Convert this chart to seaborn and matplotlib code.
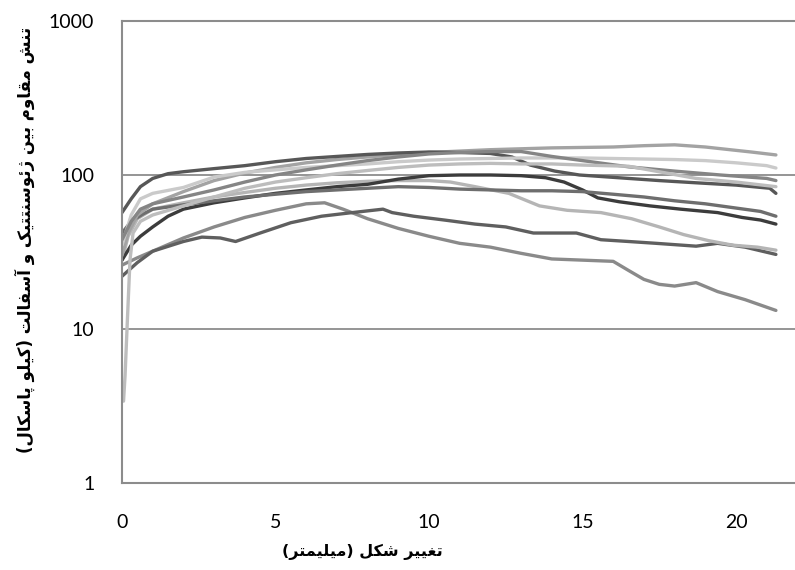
import numpy as np
import pandas as pd
import matplotlib
matplotlib.use("Agg")
import matplotlib.pyplot as plt
import seaborn as sns
from matplotlib.ticker import FixedLocator, NullLocator, FixedFormatter

# ---------------- data ----------------
x_labels_text = "تغییر شکل (میلیمتر)"
y_labels_text = "تنش مقاوم بین ژئوسنتتیک و آسفالت (کیلو پاسکال)"
y_ticks = [1, 10, 100, 1000]
y_tick_labels = ["1", "10", "100", "1000"]
x_ticks = [0, 5, 10, 15, 20]

s1_x = [0, 0.5, 1, 2, 3, 4, 5, 6, 6.6, 7.2, 8, 9, 10, 11, 12, 13, 14, 15, 16, 16.5, 17, 17.5, 18, 18.7, 19.4, 20.3, 21.3]
s1_y = [26, 29, 32, 39, 46, 53, 59, 65, 66, 60, 52, 45, 40, 36, 34, 31, 28.5, 28, 27.5, 24, 21, 19.5, 19, 20, 17.5, 15.5, 13.2]

s2_x = [0, 0.5, 1, 2, 2.6, 3.2, 3.7, 4.5, 5.5, 6.5, 7.5, 8.5, 8.8, 9.5, 10.5, 11.5, 12.5, 13.4, 14.8, 15.6, 16.5, 17.4, 18.7, 19.4, 20.3, 21.3]
s2_y = [22, 27, 32, 37, 39.5, 39, 37, 42, 49, 54, 57, 60, 57, 54, 51, 48, 46, 42, 42, 38, 37, 36, 34.5, 36, 34, 30.5]

s3_x = [0, 0.2, 0.5, 1, 2, 3, 4, 5, 6, 7, 8, 9, 10, 10.7, 11.5, 12.6, 13.6, 14.5, 15.6, 16.6, 17.5, 18.3, 19.1, 19.9, 20.7, 21.3]
s3_y = [28, 40, 52, 60, 66, 72, 77, 82, 86, 89, 91, 92, 92, 90, 84, 76, 63, 59, 57, 52, 46, 41, 37.5, 35, 34, 32.5]

s4_x = [0, 0.3, 0.6, 1, 1.5, 2, 3, 4, 5, 6, 7, 8, 9, 10, 11, 12, 13, 13.8, 14.4, 15, 15.5, 16.2, 17.2, 18.2, 19.4, 20.2, 20.8, 21.3]
s4_y = [28, 35, 40, 46, 54, 60, 66, 71, 76, 80, 84, 87, 94, 99, 100, 100, 99, 96, 90, 80, 71, 67, 63, 60, 57, 53, 51, 48]

s5_x = [0, 0.3, 0.7, 1, 2, 3, 4, 5, 6, 7, 8, 9, 10, 11, 12, 13, 14, 15, 16, 17, 18, 19, 20, 20.8, 21.3]
s5_y = [42, 50, 56, 60, 64, 68, 72, 75, 78, 80, 82, 84, 83, 81, 80, 79, 79, 78, 75, 72, 68, 65, 61, 58, 54]

s6_x = [0, 0.2, 0.5, 1, 2, 3, 4, 5, 6, 7, 8, 9, 10, 11, 12, 13, 14, 15, 16, 17, 18, 19, 19.8, 20.5, 21.3]
s6_y = [30, 42, 55, 65, 78, 92, 103, 112, 120, 126, 131, 136, 140, 143, 146, 148, 150, 151, 152, 155, 157, 152, 146, 141, 135]

s7_x = [0, 0.3, 0.6, 1, 1.5, 2, 3, 4, 5, 6, 7, 8, 9, 10, 11, 12, 12.7, 13.3, 14.1, 14.9, 16.5, 17.5, 18.7, 20, 21.1, 21.3]
s7_y = [57, 70, 84, 95, 102, 105, 110, 115, 122, 128, 132, 136, 139, 141, 140, 138, 131, 116, 106, 100, 95, 92, 89, 86, 82, 76]

s8_x = [0, 0.3, 0.6, 1, 2, 3, 4, 5, 6, 7, 8, 9, 10, 11, 12, 13, 14, 15, 16, 17, 18, 19, 20, 21, 21.3]
s8_y = [35, 55, 70, 76, 83, 97, 104, 108, 112, 115, 118, 122, 125, 127, 128, 129, 129, 129, 128, 127, 126, 124, 120, 115, 111]

s9_x = [0, 0.3, 0.6, 1, 2, 3, 4, 5, 6, 7, 8, 9, 10, 11, 12, 13, 14, 15, 16.5, 18, 19.5, 21, 21.3]
s9_y = [38, 50, 60, 65, 72, 80, 90, 100, 108, 116, 124, 131, 137, 140, 142, 142, 132, 124, 113, 106, 100, 95, 92]

s10_x = [0.05, 0.1, 0.18, 0.26, 0.36, 0.6, 1, 2, 3, 4, 5, 6, 7, 8, 9, 10, 11, 12, 13, 14, 15, 16.5, 18.7, 20, 21.3]
s10_y = [3.4, 5, 12, 28, 42, 50, 55, 63, 72, 82, 90, 96, 102, 107, 112, 116, 118, 119, 118, 118, 116, 114, 95, 90, 84]

series_names = ["s1", "s2", "s3", "s4", "s5", "s6", "s7", "s8", "s9", "s10"]
series_x = [s1_x, s2_x, s3_x, s4_x, s5_x, s6_x, s7_x, s8_x, s9_x, s10_x]
series_y = [s1_y, s2_y, s3_y, s4_y, s5_y, s6_y, s7_y, s8_y, s9_y, s10_y]
series_colors = ["#8a8a8a", "#5f5f5f", "#b5b5b5", "#3c3c3c", "#6e6e6e",
                 "#a3a3a3", "#575757", "#cacaca", "#858585", "#bdbdbd"]

# ---------------- minimal Persian shaping for matplotlib ----------------
FORMS = {
    "\u0627": (0xFE8D, 0xFE8E), "\u0622": (0xFE81, 0xFE82),
    "\u0628": (0xFE8F, 0xFE90, 0xFE91, 0xFE92), "\u067E": (0xFB56, 0xFB57, 0xFB58, 0xFB59),
    "\u062A": (0xFE95, 0xFE96, 0xFE97, 0xFE98), "\u0631": (0xFEAD, 0xFEAE),
    "\u0698": (0xFB8A, 0xFB8B), "\u0633": (0xFEB1, 0xFEB2, 0xFEB3, 0xFEB4),
    "\u0634": (0xFEB5, 0xFEB6, 0xFEB7, 0xFEB8), "\u063A": (0xFECD, 0xFECE, 0xFECF, 0xFED0),
    "\u0641": (0xFED1, 0xFED2, 0xFED3, 0xFED4), "\u0642": (0xFED5, 0xFED6, 0xFED7, 0xFED8),
    "\u06A9": (0xFB8E, 0xFB8F, 0xFB90, 0xFB91), "\u0644": (0xFEDD, 0xFEDE, 0xFEDF, 0xFEE0),
    "\u0645": (0xFEE1, 0xFEE2, 0xFEE3, 0xFEE4), "\u0646": (0xFEE5, 0xFEE6, 0xFEE7, 0xFEE8),
    "\u0648": (0xFEED, 0xFEEE), "\u06CC": (0xFBFC, 0xFBFD, 0xFBFE, 0xFBFF),
    "\u0626": (0xFE89, 0xFE8A, 0xFE8B, 0xFE8C),
}


def rtl(text):
    out = []
    for i, c in enumerate(text):
        f = FORMS.get(c)
        if f is None:
            out.append(c)
            continue
        prev = text[i - 1] if i > 0 else None
        nxt = text[i + 1] if i + 1 < len(text) else None
        jp = prev in FORMS and len(FORMS[prev]) == 4
        jn = len(f) == 4 and nxt in FORMS
        idx = {(False, False): 0, (True, False): 1, (False, True): 2, (True, True): 3}[(jp, jn)]
        out.append(chr(f[idx]))
    s = "".join(out)[::-1]
    return s.translate({ord("("): ")", ord(")"): "("})


# ---------------- long-form table ----------------
rows = []
for name, xs, ys in zip(series_names, series_x, series_y):
    for xv, yv in zip(xs, ys):
        rows.append((name, xv, yv))
df = pd.DataFrame(rows, columns=["series", "x", "y"])
palette = dict(zip(series_names, series_colors))

# ---------------- plot ----------------
sns.set_theme(style="white")
plt.rcParams["font.family"] = ["Lato", "DejaVu Sans"]

fig = plt.figure(figsize=(7.95, 5.70), dpi=100)
ax = fig.add_axes([122 / 795, 87 / 570, 673 / 795, 462 / 570])

sns.lineplot(data=df, x="x", y="y", hue="series", palette=palette,
             estimator=None, sort=False, legend=False, linewidth=2.4, ax=ax)

ax.set_yscale("log")
ax.set_ylim(1, 1000)
ax.set_xlim(0, 673 / 30.7)

ax.yaxis.set_major_locator(FixedLocator(y_ticks))
ax.yaxis.set_major_formatter(FixedFormatter(y_tick_labels))
ax.yaxis.set_minor_locator(NullLocator())
ax.xaxis.set_major_locator(FixedLocator(x_ticks))
ax.set_xticklabels([str(t) for t in x_ticks])

ax.grid(False)
ax.yaxis.grid(True, color="#8c8c8c", linewidth=1.3)
ax.set_axisbelow(True)

for side in ["left", "bottom", "top"]:
    ax.spines[side].set_visible(True)
    ax.spines[side].set_color("#8c8c8c")
    ax.spines[side].set_linewidth(1.5)
ax.spines["right"].set_visible(False)

ax.tick_params(axis="both", length=0, labelsize=14, colors="black")
ax.tick_params(axis="y", pad=20)
ax.tick_params(axis="x", pad=22)

ax.set_xlabel(rtl(x_labels_text), family="DejaVu Sans", fontweight="bold", fontsize=11.5, color="black")
ax.set_ylabel(rtl(y_labels_text), family="DejaVu Sans", fontweight="bold", fontsize=12, color="black")
ax.xaxis.label.set_va("center")
ax.yaxis.label.set_va("center")
ax.xaxis.set_label_coords(0.37 - 0.013, -0.149)
ax.yaxis.set_label_coords(-0.144, 0.526)

fig.savefig("out.png", dpi=100)
